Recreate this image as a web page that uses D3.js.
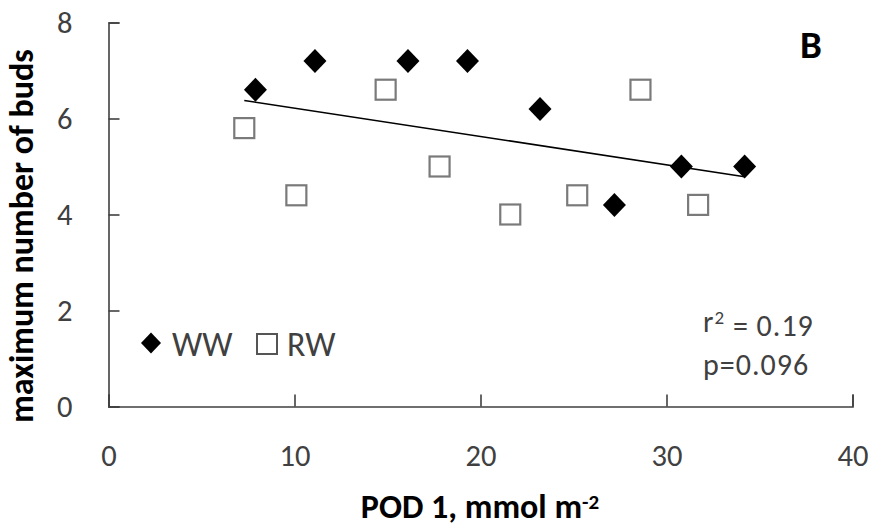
<!DOCTYPE html>
<html><head><meta charset="utf-8">
<script src="https://cdn.jsdelivr.net/npm/d3@7"></script>
<style>body{margin:0;background:#fff}</style>
</head><body><svg id="chart" width="873" height="532"></svg>
<script>
// POD1 (mmol m-2) and max number of buds, per treatment
var wwPod  = [7.9, 11.1, 16.1, 19.3, 23.2, 27.2, 30.8, 34.2];
var wwBuds = [6.6, 7.2, 7.2, 7.2, 6.2, 4.2, 5.0, 5.0];
var rwPod  = [7.3, 10.1, 14.9, 17.8, 21.6, 25.2, 28.6, 31.7];
var rwBuds = [5.8, 4.4, 6.6, 5.0, 4.0, 4.4, 6.6, 4.2];
var xTicks = [0, 10, 20, 30, 40];
var yTicks = [0, 2, 4, 6, 8];
var seriesNames = ["WW", "RW"];

var font = "Carlito, Calibri, Lato, sans-serif";
var svg = d3.select("#chart");

var x = d3.scaleLinear().domain([0, 40]).range([108.5, 852.5]);
var y = d3.scaleLinear().domain([0, 8]).range([406.5, 22.5]);

var gx = svg.append("g").attr("transform", "translate(0," + y(0) + ")")
	.call(d3.axisBottom(x).tickValues(xTicks).tickSize(-12).tickPadding(38));
var gy = svg.append("g").attr("transform", "translate(" + x(0) + ",0)")
	.call(d3.axisLeft(y).tickValues(yTicks).tickSize(-11).tickPadding(36));

[gx, gy].forEach(function(g){
	g.selectAll("path,line").attr("stroke", "#404040").attr("stroke-width", 1.6);
	g.selectAll("text").attr("fill", "#404040").style("font-family", font).style("font-size", "30.5px");
});

// trend line from all points
var pts = [];
for (var i = 0; i < wwPod.length; i++) pts.push([wwPod[i], wwBuds[i]]);
for (var i = 0; i < rwPod.length; i++) pts.push([rwPod[i], rwBuds[i]]);
var mx = d3.mean(pts, function(d){return d[0];});
var my = d3.mean(pts, function(d){return d[1];});
var sxy = d3.sum(pts, function(d){return (d[0]-mx)*(d[1]-my);});
var sxx = d3.sum(pts, function(d){return (d[0]-mx)*(d[0]-mx);});
var slope = sxy / sxx, icpt = my - slope * mx;
var xr = d3.extent(pts, function(d){return d[0];});
svg.append("line")
	.attr("x1", x(xr[0])).attr("y1", y(icpt + slope * xr[0]))
	.attr("x2", x(xr[1])).attr("y2", y(icpt + slope * xr[1]))
	.attr("stroke", "#000").attr("stroke-width", 1.6);

var diamond = "M0,-12L11.5,0L0,12L-11.5,0Z";

svg.selectAll(".rw").data(rwPod).enter().append("rect")
	.attr("class", "rw")
	.attr("x", function(d){return x(d) - 10;})
	.attr("y", function(d, i){return y(rwBuds[i]) - 10;})
	.attr("width", 20).attr("height", 20)
	.attr("fill", "#fff").attr("stroke", "#7a7a7a").attr("stroke-width", 2.2);

svg.selectAll(".ww").data(wwPod).enter().append("path")
	.attr("class", "ww")
	.attr("d", diamond)
	.attr("transform", function(d, i){return "translate(" + x(d) + "," + y(wwBuds[i]) + ")";})
	.attr("fill", "#000");

// legend
svg.append("path").attr("d", "M0,-10.5L10,0L0,10.5L-10,0Z")
	.attr("transform", "translate(151,343)").attr("fill", "#000");
svg.append("text").attr("x", 172).attr("y", 356).text(seriesNames[0])
	.style("font-family", font).style("font-size", "34px").attr("fill", "#404040");
svg.append("rect").attr("x", 257).attr("y", 334).attr("width", 20).attr("height", 20)
	.attr("fill", "#fff").attr("stroke", "#555").attr("stroke-width", 2);
svg.append("text").attr("x", 287).attr("y", 356).text(seriesNames[1])
	.style("font-family", font).style("font-size", "34px").attr("fill", "#404040");

// stats
var r2 = svg.append("text").attr("x", 703).attr("y", 332)
	.style("font-family", font).style("font-size", "30px").style("letter-spacing", "1px").attr("fill", "#404040");
r2.append("tspan").text("r");
r2.append("tspan").attr("dy", "-0.4em").style("font-size", "19px").text("2");
r2.append("tspan").attr("dy", "0.4em").text(" = 0.19");
svg.append("text").attr("x", 703).attr("y", 375).text("p=0.096")
	.style("font-family", font).style("font-size", "30px").style("letter-spacing", "1px").attr("fill", "#404040");

// panel label
svg.append("text").attr("x", 800).attr("y", 58).text("B")
	.style("font-family", font).style("font-size", "39px").style("font-weight", "bold");

// axis titles
var xt = svg.append("text").attr("x", 480).attr("y", 518).attr("text-anchor", "middle")
	.style("font-family", font).style("font-size", "34px").style("font-weight", "bold");
xt.append("tspan").text("POD 1, mmol m");
xt.append("tspan").attr("dy", "-0.45em").style("font-size", "21px").text("-2");

svg.append("text").attr("transform", "translate(33,236) rotate(-90)")
	.attr("text-anchor", "middle")
	.style("font-family", font).style("font-size", "34px").style("font-weight", "bold")
	.text("maximum number of buds");
</script>
</body></html>
